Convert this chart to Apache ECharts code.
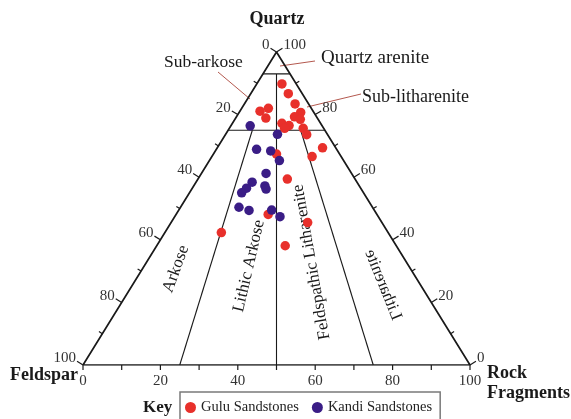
<!DOCTYPE html>
<html>
<head>
<meta charset="utf-8">
<style>
  html, body { margin: 0; padding: 0; background: #ffffff; }
  #chart { width: 571px; height: 419px; }
</style>
<script src="https://cdn.jsdelivr.net/npm/echarts@6/dist/echarts.min.js"></script>
</head>
<body>
<div id="chart"></div>
<script>
// Modal composition of sandstones (percent Quartz / Feldspar / Rock fragments)
const guluQuartz   = [89.8, 86.7, 83.4, 80.7, 79.3, 78.5, 82.0, 81.1, 78.9, 77.2, 76.5, 75.6, 75.6, 73.6, 69.4, 66.6, 67.4, 59.4, 48.1, 45.5, 42.3, 38.1];
const guluFeldspar = [ 3.7,  3.6,  3.5,  3.4,  5.7,  4.6, 11.1, 13.7, 13.3, 10.0,  8.5, 10.1,  5.3,  5.4,  3.4,  7.5, 16.3, 17.5, 28.1, 19.2, 43.1, 28.7];
const guluRock     = [ 6.5,  9.7, 13.1, 15.9, 15.0, 16.9,  6.9,  5.2,  7.8, 12.8, 15.0, 14.3, 19.1, 21.0, 27.2, 25.9, 16.3, 23.1, 23.8, 35.3, 14.6, 33.2];

const kandiQuartz   = [76.4, 73.7, 68.9, 68.4, 65.3, 61.2, 58.4, 56.5, 55.0, 57.2, 56.2, 50.4, 49.4, 49.5, 47.4];
const kandiFeldspar = [18.6, 12.9, 20.7, 17.3, 16.6, 22.1, 27.1, 29.5, 31.5, 24.4, 24.6, 34.5, 32.4, 26.5, 25.4];
const kandiRock     = [ 5.0, 13.4, 10.4, 14.3, 18.1, 16.7, 14.5, 14.0, 13.5, 18.4, 19.2, 15.1, 18.2, 24.0, 27.2];

// Classification boundaries (Q, F, R end points)
const boundaryEnds = [
  [[93, 7, 0], [93, 0, 7]],
  [[75, 25, 0], [75, 0, 25]],
  [[93, 3.5, 3.5], [0, 50, 50]],
  [[75, 18.75, 6.25], [0, 75, 25]],
  [[75, 6.25, 18.75], [0, 25, 75]]
];

const tickValues = [0, 10, 20, 30, 40, 50, 60, 70, 80, 90, 100];
const tickLabels = ['0', '20', '40', '60', '80', '100'];

const seriesNames = ['Gulu Sandstones', 'Kandi Sandstones'];
const seriesColors = ['#e8302b', '#3a1d86'];

// Ternary (Q, F, R) -> plane: x runs Feldspar(0) .. Rock fragments(100), y is Quartz
function tern(q, f, r) {
  const s = q + f + r;
  return [(r + q / 2) / s * 100, q / s * 100];
}

function toPoints(qs, fs, rs) {
  return qs.map((q, i) => tern(q, fs[i], rs[i]));
}

// Tick marks along the three edges
const ticks = [];
tickValues.forEach(v => {
  const lab = tickLabels.indexOf(String(v)) >= 0 ? String(v) : null;
  ticks.push({ p: tern(100 - v, v, 0), side: 'L', label: lab });   // Feldspar edge
  ticks.push({ p: tern(v, 0, 100 - v), side: 'R', label: lab });   // Quartz edge
  ticks.push({ p: tern(0, 100 - v, v), side: 'B', label: lab });   // Rock fragments edge
});

const serif = '"Liberation Serif", "Times New Roman", serif';
const ink = '#1a1a1a';
const leader = '#b4594f';

const series = [];

// outer triangle
series.push({
  type: 'line', silent: true, symbol: 'none', z: 3,
  data: [tern(0, 100, 0), tern(0, 0, 100), tern(100, 0, 0), tern(0, 100, 0)],
  lineStyle: { color: ink, width: 1.7 }
});

// field boundaries
boundaryEnds.forEach(seg => {
  series.push({
    type: 'line', silent: true, symbol: 'none', z: 2,
    data: [tern(...seg[0]), tern(...seg[1])],
    lineStyle: { color: ink, width: 1.1 }
  });
});

// tick marks and tick labels
series.push({
  type: 'custom', silent: true, clip: false, z: 4,
  coordinateSystem: 'cartesian2d',
  data: ticks.map(t => t.p),
  renderItem: function (params, api) {
    const t = ticks[params.dataIndex];
    const c = api.coord([api.value(0), api.value(1)]);
    let dir, len;
    if (t.side === 'L') { dir = [-0.851, -0.526]; len = t.label ? 7 : 4; }
    else if (t.side === 'R') { dir = [0.851, -0.526]; len = t.label ? 7 : 4; }
    else { dir = [0, 1]; len = 5; }
    const e = [c[0] + dir[0] * len, c[1] + dir[1] * len];
    const children = [{
      type: 'line',
      shape: { x1: c[0], y1: c[1], x2: e[0], y2: e[1] },
      style: { stroke: ink, lineWidth: 1.2 }
    }];
    if (t.label) {
      let tx, ty, align, va;
      if (t.side === 'L') { tx = e[0] - 1; ty = e[1] - 3; align = 'right'; va = 'middle'; }
      else if (t.side === 'R') { tx = e[0] + 1; ty = e[1] - 3; align = 'left'; va = 'middle'; }
      else { tx = c[0]; ty = c[1] + 9; align = 'center'; va = 'top'; }
      children.push({
        type: 'text',
        style: { text: t.label, x: tx, y: ty, align: align, verticalAlign: va,
                 fill: '#333', font: '15px ' + serif }
      });
    }
    return { type: 'group', children: children };
  }
});

// samples
series.push({
  name: seriesNames[0], type: 'scatter', z: 5,
  data: toPoints(guluQuartz, guluFeldspar, guluRock),
  symbol: 'circle', symbolSize: 9.5,
  itemStyle: { color: seriesColors[0], opacity: 1 }
});
series.push({
  name: seriesNames[1], type: 'scatter', z: 5,
  data: toPoints(kandiQuartz, kandiFeldspar, kandiRock),
  symbol: 'circle', symbolSize: 9.5,
  itemStyle: { color: seriesColors[1], opacity: 1 }
});

function txt(text, x, y, opts) {
  return Object.assign({
    type: 'text', x: x, y: y, silent: true,
    style: Object.assign({ text: text, fill: ink, font: '17px ' + serif,
      align: 'center', verticalAlign: 'middle' }, opts && opts.style)
  }, opts && opts.el);
}

const chart = echarts.init(document.getElementById('chart'), null, { renderer: 'canvas' });
chart.setOption({
  animation: false,
  backgroundColor: '#ffffff',
  grid: { left: 83, top: 52, width: 387, height: 313, containLabel: false },
  xAxis: { type: 'value', min: 0, max: 100, show: false },
  yAxis: { type: 'value', min: 0, max: 100, show: false },
  legend: {
    data: seriesNames,
    left: 180, top: 392,
    icon: 'circle', itemWidth: 11, itemHeight: 11, itemGap: 13,
    padding: [8, 8, 12, 5],
    borderColor: '#7a7a7a', borderWidth: 1.5,
    textStyle: { fontFamily: serif, fontSize: 14.5, color: '#222' }
  },
  series: series,
  graphic: [
    // corner names
    txt('Quartz', 277, 19, { style: { font: 'bold 18px ' + serif } }),
    txt('Feldspar', 10, 375, { style: { font: 'bold 18px ' + serif, align: 'left' } }),
    txt('Rock', 487, 373, { style: { font: 'bold 18px ' + serif, align: 'left' } }),
    txt('Fragments', 487, 393, { style: { font: 'bold 18px ' + serif, align: 'left' } }),
    txt('Key', 143, 408, { style: { font: 'bold 17px ' + serif, align: 'left' } }),

    // called-out fields with leader lines
    txt('Sub-arkose', 164, 62, { style: { font: '17.5px ' + serif, align: 'left' } }),
    txt('Quartz arenite', 321, 58, { style: { font: '19px ' + serif, align: 'left' } }),
    txt('Sub-litharenite', 362, 97, { style: { font: '18px ' + serif, align: 'left' } }),
    { type: 'line', silent: true, shape: { x1: 218, y1: 72, x2: 250, y2: 99 }, style: { stroke: leader, lineWidth: 1 } },
    { type: 'line', silent: true, shape: { x1: 315, y1: 61, x2: 280, y2: 66 }, style: { stroke: leader, lineWidth: 1 } },
    { type: 'line', silent: true, shape: { x1: 361, y1: 94, x2: 307, y2: 107 }, style: { stroke: leader, lineWidth: 1 } },

    // rotated field names
    txt('Arkose', 176, 269, { el: { rotation: 70 * Math.PI / 180 } }),
    txt('Lithic Arkose', 249, 266, { el: { rotation: 77 * Math.PI / 180 } }),
    txt('Feldspathic Litharenite', 311.5, 262, { el: { rotation: 100 * Math.PI / 180 } }),
    txt('Litharenite', 383, 285, { el: { rotation: -68 * Math.PI / 180, scaleX: -1 } })
  ]
});
</script>
</body>
</html>
